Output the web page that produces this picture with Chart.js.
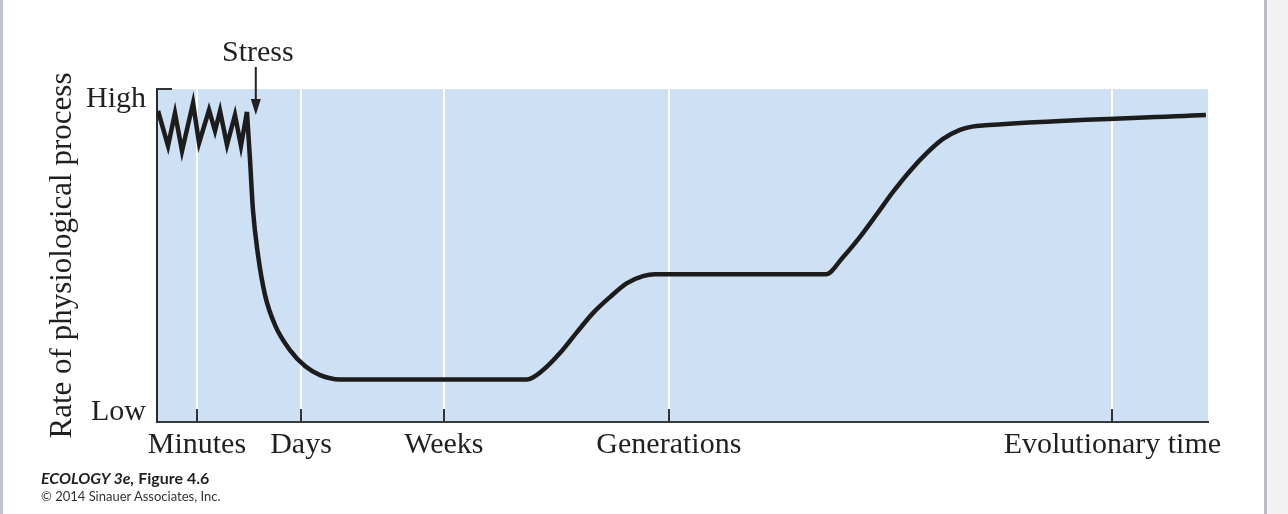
<!DOCTYPE html>
<html>
<head>
<meta charset="utf-8">
<script src="https://cdn.jsdelivr.net/npm/chart.js@4.4.1/dist/chart.umd.min.js"></script>
<style>
  html, body { margin: 0; padding: 0; background: #fff; }
  body { width: 1288px; height: 514px; position: relative; overflow: hidden; }
  .edge-left { position: absolute; left: 0; top: 0; width: 3px; height: 514px; background: #bfc3cb; }
  .edge-right { position: absolute; left: 1264px; top: 0; width: 24px; height: 514px; background: #f2f2f2; border-left: 3px solid #b9bcc2; box-sizing: border-box; }
  #wrap { position: absolute; left: 0; top: 0; width: 1288px; height: 514px; }
  .caption { position: absolute; left: 41px; font-family: Lato, "Open Sans", sans-serif; color: #231f20; }
  .fig { top: 468px; font-size: 16px; font-weight: bold; }
  .fig i { font-style: italic; }
  .copy { top: 488px; font-size: 13px; color: #333; }
</style>
</head>
<body>
<div class="edge-left"></div>
<div class="edge-right"></div>
<div id="wrap"><canvas id="chart" width="1288" height="514"></canvas></div>
<div class="caption fig"><i>ECOLOGY 3e,</i> Figure 4.6</div>
<div class="caption copy">© 2014 Sinauer Associates, Inc.</div>
<script>
// x: relative time (0-100), y: rate (0 = low, 100 = high)
const timeLabels = ['Minutes', 'Days', 'Weeks', 'Generations', 'Evolutionary time'];
const timeTicks = [3.8, 13.7, 27.3, 48.7, 90.9];
const rateLabels = ['Low', 'High'];
const rateTicks = [3, 97];
const stressX = 9.4;

// short-term fluctuation before the stress
const zigX = [0.1, 1.05, 1.71, 2.38, 3.43, 4.0, 4.95, 5.52, 6.0, 6.66, 7.42, 7.99, 8.56];
const zigY = [93.4, 82.9, 92.8, 81.4, 95.8, 83.8, 93.7, 87.4, 93.4, 83.2, 92.2, 82.9, 93.1];

// response after the stress
const respX = [8.56, 8.85, 9.13, 9.61, 10.28, 11.23, 12.65, 14.08, 15.51, 17.41,
  35.2, 36.73, 38.34, 39.96, 41.48, 43.1, 44.72, 46.24, 47.38,
  63.65, 65.27, 66.89, 68.51, 70.03, 71.65, 73.26, 74.79, 76.4, 77.55, 78.8, 99.8];
const respY = [93.1, 78.7, 63.7, 50.2, 38.1, 29.1, 21.6, 16.8, 14.1, 12.8,
  12.8, 15.6, 20.7, 27.0, 32.7, 37.5, 41.7, 43.8, 44.4,
  44.4, 49.5, 55.6, 62.5, 69.1, 75.4, 80.8, 85.0, 87.7, 88.7, 89.1, 92.2];

const toPts = (xs, ys) => xs.map((x, i) => ({ x: x, y: ys[i] }));

const serif = '"Liberation Serif", "DejaVu Serif", serif';
const ink = '#231f20';

const decor = {
  id: 'decor',
  beforeDraw(chart) {
    const { ctx, chartArea: a } = chart;
    ctx.save();
    ctx.fillStyle = '#cee0f3';
    ctx.fillRect(a.left, a.top, a.right - a.left, a.bottom - a.top);
    ctx.restore();
  },
  afterDraw(chart) {
    const { ctx, chartArea: a } = chart;
    const xs = chart.scales.x;
    ctx.save();
    ctx.strokeStyle = '#333';
    ctx.lineWidth = 2;
    // inner ticks on the time axis
    timeTicks.forEach(v => {
      const px = Math.round(xs.getPixelForValue(v));
      ctx.beginPath();
      ctx.moveTo(px, a.bottom - 13);
      ctx.lineTo(px, a.bottom);
      ctx.stroke();
    });
    // top bracket
    ctx.beginPath();
    ctx.moveTo(a.left - 1, a.top);
    ctx.lineTo(a.left + 15, a.top);
    ctx.stroke();

    // stress arrow
    const sx = xs.getPixelForValue(stressX);
    ctx.strokeStyle = ink;
    ctx.fillStyle = ink;
    ctx.lineWidth = 2;
    ctx.beginPath();
    ctx.moveTo(sx, a.top - 22);
    ctx.lineTo(sx, a.top + 14);
    ctx.stroke();
    ctx.beginPath();
    ctx.moveTo(sx - 5, a.top + 10);
    ctx.lineTo(sx + 5, a.top + 10);
    ctx.lineTo(sx, a.top + 26);
    ctx.closePath();
    ctx.fill();
    ctx.font = '30px ' + serif;
    ctx.textAlign = 'center';
    ctx.textBaseline = 'alphabetic';
    ctx.fillText('Stress', sx + 2, a.top - 28);
    ctx.restore();
  }
};

new Chart(document.getElementById('chart'), {
  type: 'line',
  data: {
    datasets: [
      {
        data: toPts(zigX, zigY),
        borderColor: '#1c1c1c',
        borderWidth: 4.5,
        tension: 0,
        borderJoinStyle: 'miter',
        pointRadius: 0
      },
      {
        data: toPts(respX, respY),
        borderColor: '#1c1c1c',
        borderWidth: 4.5,
        cubicInterpolationMode: 'monotone',
        pointRadius: 0
      }
    ]
  },
  options: {
    responsive: false,
    animation: false,
    events: [],
    layout: { padding: { left: 0, right: 80, top: 89, bottom: 0 } },
    plugins: { legend: { display: false }, tooltip: { enabled: false } },
    scales: {
      x: {
        type: 'linear',
        min: 0,
        max: 100,
        afterBuildTicks: s => { s.ticks = timeTicks.map(v => ({ value: v })); },
        afterFit: s => { s.height = 92; },
        ticks: {
          autoSkip: false,
          maxRotation: 0,
          padding: 5,
          color: ink,
          font: { family: serif, size: 30 },
          callback: (v, i) => timeLabels[i]
        },
        grid: { color: '#ffffff', lineWidth: 2, drawTicks: false },
        border: { color: '#3a3a3a', width: 2 }
      },
      y: {
        min: 0,
        max: 100,
        afterBuildTicks: s => { s.ticks = rateTicks.map(v => ({ value: v })); },
        afterFit: s => { s.width = 157; },
        ticks: {
          padding: 11,
          color: ink,
          font: { family: serif, size: 30 },
          callback: (v, i) => rateLabels[i]
        },
        grid: { display: false, drawTicks: false },
        border: { color: '#2a2a2a', width: 2 },
        title: {
          display: true,
          text: 'Rate of physiological process',
          color: ink,
          font: { family: serif, size: 31 },
          padding: { top: 44, bottom: 0 }
        }
      }
    }
  },
  plugins: [decor]
});
</script>
</body>
</html>
